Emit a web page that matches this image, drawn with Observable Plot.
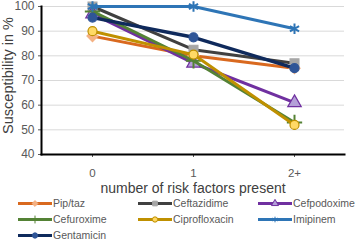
<!DOCTYPE html>
<html>
<head>
<meta charset="utf-8">
<script src="https://cdn.jsdelivr.net/npm/d3@7"></script>
<script src="https://cdn.jsdelivr.net/npm/@observablehq/plot@0.6"></script>
<style>
  html, body { margin: 0; padding: 0; background: #fff; }
  #wrap { position: relative; width: 356px; height: 240px; font-family: "Liberation Sans", Arial, sans-serif; overflow: hidden; }
  #legend { position: absolute; left: 0; top: 196px; width: 356px; height: 44px; }
  .item { position: absolute; display: flex; align-items: center; font-size: 10.5px; line-height: 11px; color: #595959; height: 11px; }
  .item svg { display: block; }
</style>
</head>
<body>
<div id="wrap"><div id="chart"></div><div id="legend"></div></div>
<script>
const categories = ["0", "1", "2+"];
const seriesNames = ["Pip/taz", "Ceftazidime", "Cefpodoxime", "Cefuroxime", "Ciprofloxacin", "Imipinem", "Gentamicin"];
const pipTaz = [88, 80, 75];
const ceftazidime = [100, 82.5, 77];
const cefpodoxime = [97, 77, 61];
const cefuroxime = [98, 78, 53];
const ciprofloxacin = [90, 80.5, 52];
const imipinem = [100, 100, 91];
const gentamicin = [95.5, 87.5, 75];
const yTicks = [40, 50, 60, 70, 80, 90, 100];
const yLabel = "Susceptibility in %";
const xLabel = "number of risk factors present";

const seriesValues = [pipTaz, ceftazidime, cefpodoxime, cefuroxime, ciprofloxacin, imipinem, gentamicin];
const lineColors = ["#D9691F", "#404040", "#7030A0", "#548235", "#BF9000", "#2E75B6", "#0F2A5C"];
const markFill = ["#F4B183", "#A6A6A6", "#B4A0D8", "#548235", "#FFD966", "none", "#2F5597"];
const markStroke = ["#F4B183", "#A6A6A6", "#7030A0", "#548235", "#BF9000", "#2E75B6", "#2F5597"];
const symbols = ["diamond2", "square", "triangle", "plus", "circle", "asterisk", "circle"];

const rows = [];
seriesNames.forEach((s, i) => categories.forEach((c, j) => rows.push({series: s, cat: c, value: seriesValues[i][j]})));

const marks = [
  Plot.gridY(yTicks, {stroke: "#d9d9d9", strokeOpacity: 1, strokeWidth: 1})
];
seriesNames.forEach((s, i) => {
  const d = rows.filter(r => r.series === s);
  marks.push(Plot.line(d, {x: "cat", y: "value", stroke: lineColors[i], strokeWidth: s === "Gentamicin" ? 3.5 : 3}));
  marks.push(Plot.dot(d, {x: "cat", y: "value", symbol: () => symbols[i], r: symbols[i] === "circle" ? 4.5 : 5,
    fill: markFill[i], stroke: markStroke[i], strokeWidth: symbols[i] === "plus" || symbols[i] === "asterisk" ? 2 : 1.2}));
});

const chart = Plot.plot({
  width: 356,
  height: 196,
  marginLeft: 41,
  marginRight: 12,
  marginTop: 6,
  marginBottom: 42,
  style: {fontFamily: "Liberation Sans, Arial, sans-serif", background: "#fff"},
  x: {type: "point", domain: categories, padding: 0.5},
  y: {domain: [40, 100]},
  symbol: {type: "identity"},
  marks: [
    ...marks,
    Plot.axisY({ticks: yTicks, tickSize: 3, tickPadding: 4, fontSize: 12, color: "#595959",
      label: yLabel, labelAnchor: "center", labelArrow: "none", labelOffset: 39}),
    Plot.axisX({tickSize: 3, tickPadding: 11, fontSize: 11.5, color: "#595959", label: null}),
    Plot.frame({anchor: "left", stroke: "#000", strokeWidth: 2}),
    Plot.frame({anchor: "bottom", stroke: "#000", strokeWidth: 2}),
    Plot.text([xLabel], {frameAnchor: "bottom", dy: 38, fontSize: 14, fill: "#404040", text: d => d})
  ]
});
document.getElementById("chart").appendChild(chart);
// style the y axis label
d3.select(chart).selectAll("[aria-label='y-axis label'] text")
  .attr("font-size", 14.5).attr("fill", "#404040").attr("x", 5);

// Legend
const legend = d3.select("#legend");
const colX = [18, 138, 258];
const rowY = [2, 18, 34];
const symMap = {diamond2: d3.symbolDiamond2, square: d3.symbolSquare, triangle: d3.symbolTriangle,
  plus: d3.symbolPlus, circle: d3.symbolCircle, asterisk: d3.symbolAsterisk};
seriesNames.forEach((s, i) => {
  const item = legend.append("div").attr("class", "item")
    .style("left", colX[i % 3] + "px").style("top", rowY[Math.floor(i / 3)] + "px");
  const svg = item.append("svg").attr("width", 34).attr("height", 11);
  svg.append("line").attr("x1", 0).attr("x2", 34).attr("y1", 5.5).attr("y2", 5.5)
    .attr("stroke", lineColors[i]).attr("stroke-width", 3);
  svg.append("path").attr("transform", "translate(17,5.5)")
    .attr("d", d3.symbol(symMap[symbols[i]], 22)())
    .attr("fill", markFill[i]).attr("stroke", markStroke[i]).attr("stroke-width", 1);
  item.append("span").text(s).style("margin-left", "1px");
});
</script>
</body>
</html>
